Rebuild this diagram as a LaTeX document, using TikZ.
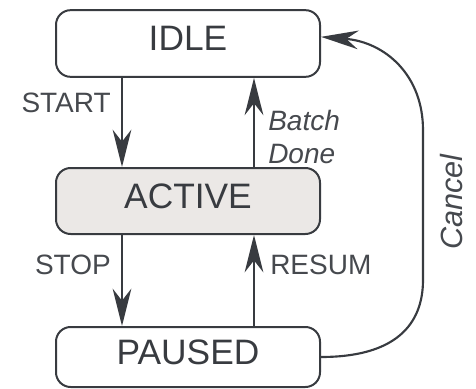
\documentclass[tikz,border=0pt]{standalone}
\usepackage{fontspec}
\setmainfont{Liberation Sans}
\usetikzlibrary{arrows.meta,calc,positioning}
\definecolor{linegray}{HTML}{383B40}
\definecolor{activefill}{HTML}{EBE8E6}
\definecolor{labelgray}{HTML}{46494E}

\begin{document}
\begin{tikzpicture}[x=0.75pt,y=0.75pt,yscale=-1,xscale=1,
  state/.style={draw=linegray,line width=1.5pt,rounded corners=11pt,minimum width=198pt,inner sep=0pt,text depth=7pt,text=linegray,font=\fontsize{26.5}{30}\selectfont},
  trans/.style={draw=linegray,line width=1.6pt,-{Stealth[length=28pt,width=14pt,inset=9pt]}},
  lbl/.style={inner sep=0pt,text=labelgray,font=\fontsize{21}{25}\selectfont}]

\useasboundingbox (0,0) rectangle (476,389);

\node[state,minimum height=50pt] (idle) at (188,43.5) {IDLE};
\node[state,minimum height=49.5pt,fill=activefill] (active) at (188,201) {ACTIVE};
\node[state,minimum height=45pt] (paused) at (188,357) {PAUSED};


\draw[trans] ([xshift=-49.5pt]idle.south) -- ([xshift=-49.5pt]active.north);
\draw[trans] ([xshift=49.5pt]active.north) -- ([xshift=49.5pt]idle.south);
\draw[trans] ([xshift=-49.5pt]active.south) -- ([xshift=-49.5pt]paused.north);
\draw[trans] ([xshift=49.5pt]paused.north) -- ([xshift=49.5pt]active.south);
\draw[trans] (paused.east) .. controls (395,357) and (423,325) .. (423,280) -- (423,130) .. controls (423,75) and (385,42) .. ([yshift=-5pt]idle.east);


\node[lbl,anchor=south east] (startlbl) at (111,113) {START};

\node[lbl,anchor=north west,align=left,font=\fontsize{21}{25}\selectfont\itshape] (donelbl) at (268,110) {Batch\\Done};

\node[lbl,anchor=south east] (stoplbl) at (111,275) {STOP};

\node[lbl,anchor=south west] (resumlbl) at (270,275) {RESUM};

\node[lbl,rotate=90,font=\fontsize{23}{27}\selectfont\itshape] (cancellbl) at (452,202) {Cancel};

\end{tikzpicture}
\end{document}
